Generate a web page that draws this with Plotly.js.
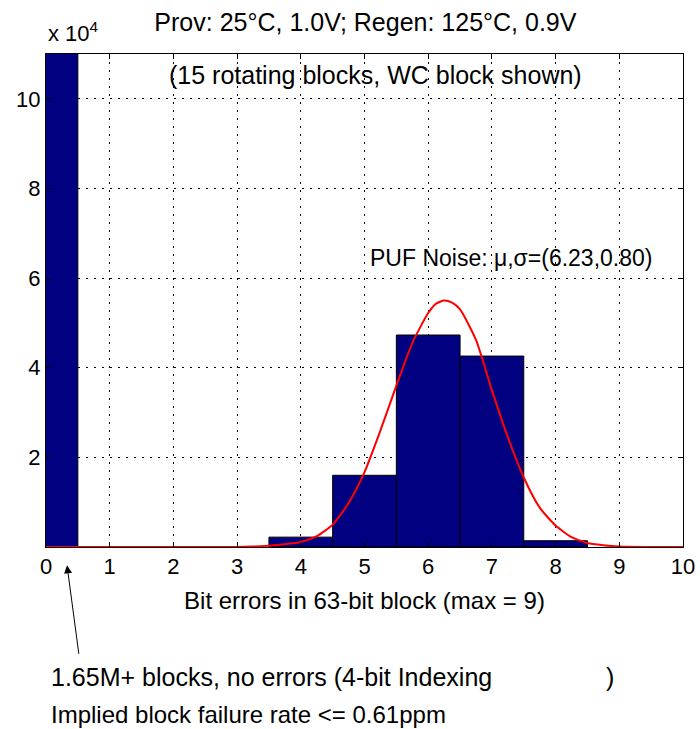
<!DOCTYPE html>
<html><head><meta charset="utf-8">
<script src="https://cdn.plot.ly/plotly-3.0.1.min.js"></script>
<style>body{margin:0;background:#fff}#c{width:700px;height:729px}</style>
</head><body><div id="c"></div>
<script>
// Histogram of bit errors (counts in units of 10^4)
const binCenters = [0, 4, 5, 6, 7, 8];
const binCounts  = [11.5, 0.22, 1.6, 4.73, 4.26, 0.14];
// Fitted noise curve (units of 10^4)
const fitX = [0, 3.0, 3.25, 3.5, 3.75, 4.0, 4.25, 4.5, 4.75, 5.0, 5.25, 5.5, 5.75, 6.0, 6.125, 6.25, 6.375, 6.5, 6.75, 7.0, 7.25, 7.5, 7.75, 8.0, 8.25, 8.5, 8.75, 9.0, 9.5, 10];
const fitY = [0, 0.0, 0.01, 0.03, 0.06, 0.11, 0.24, 0.5, 0.98, 1.67, 2.6, 3.6, 4.55, 5.22, 5.43, 5.5, 5.45, 5.3, 4.62, 3.5, 2.45, 1.55, 0.88, 0.48, 0.22, 0.09, 0.04, 0.01, 0, 0];
const xTicks = [0,1,2,3,4,5,6,7,8,9,10];
const yTicks = [2,4,6,8,10];

const F = 'Liberation Sans, Arial, sans-serif';
const traces = [
  {type:'bar', x:binCenters, y:binCounts, width:1,
   marker:{color:'#000080', line:{color:'#000000', width:1}}, hoverinfo:'skip'},
  {type:'scatter', mode:'lines', x:fitX, y:fitY, line:{color:'#ff0000', width:2, shape:'spline', smoothing:0.6}, hoverinfo:'skip'}
];
const layout = {
  width:700, height:729, showlegend:false,
  paper_bgcolor:'#ffffff', plot_bgcolor:'#ffffff',
  margin:{l:46, r:17, t:54, b:182},
  font:{family:F, size:22, color:'#000'},
  bargap:0,
  xaxis:{range:[0,10], tickvals:xTicks, ticks:'inside', ticklen:5, tickcolor:'#000',
    showline:true, linecolor:'#000', linewidth:1, mirror:'ticks',
    showgrid:true, gridcolor:'#000', griddash:'2px,6px', gridwidth:1, zeroline:false,
    tickfont:{size:22}, title:{text:'Bit errors in 63-bit block (max = 9)', font:{size:24}, standoff:13}},
  yaxis:{range:[0,11], tickvals:yTicks, ticks:'inside', ticklen:5, tickcolor:'#000',
    showline:true, linecolor:'#000', linewidth:1, mirror:'ticks',
    showgrid:true, gridcolor:'#000', griddash:'2px,6px', gridwidth:1, zeroline:false,
    tickfont:{size:22}},
  title:{text:'Prov: 25°C, 1.0V; Regen: 125°C, 0.9V', font:{size:25}, x:0.522, xanchor:'center', y:0.97, yanchor:'middle'},
  annotations:[
    {text:'x 10<sup>4</sup>', xref:'paper', yref:'paper', x:0, y:1, xanchor:'left', yanchor:'bottom', yshift:6, showarrow:false, font:{size:22}},
    {text:'(15 rotating blocks, WC block shown)', xref:'x', yref:'paper', x:5.18, y:0.957, xanchor:'center', yanchor:'middle', showarrow:false, font:{size:25}},
    {text:'PUF Noise: μ,σ=(6.23,0.80)', xref:'x', yref:'y', x:5.06, y:6.45, xanchor:'left', yanchor:'middle', showarrow:false, font:{size:23}},
    {text:'', xref:'x', yref:'paper', x:0.33, y:-0.037, axref:'pixel', ayref:'pixel', ax:12, ay:90, showarrow:true, arrowhead:2, arrowsize:1.6, arrowwidth:1, arrowcolor:'#000'},
    {text:'1.65M+ blocks, no errors (4-bit Indexing', xref:'paper', yref:'paper', x:0.004, y:-0.264, xanchor:'left', yanchor:'middle', showarrow:false, font:{size:25}},
    {text:')', xref:'paper', yref:'paper', x:0.876, y:-0.264, xanchor:'left', yanchor:'middle', showarrow:false, font:{size:25}},
    {text:'Implied block failure rate <= 0.61ppm', xref:'paper', yref:'paper', x:0.004, y:-0.34, xanchor:'left', yanchor:'middle', showarrow:false, font:{size:24}}
  ]
};
Plotly.newPlot('c', traces, layout, {staticPlot:true, displayModeBar:false});
</script></body></html>
